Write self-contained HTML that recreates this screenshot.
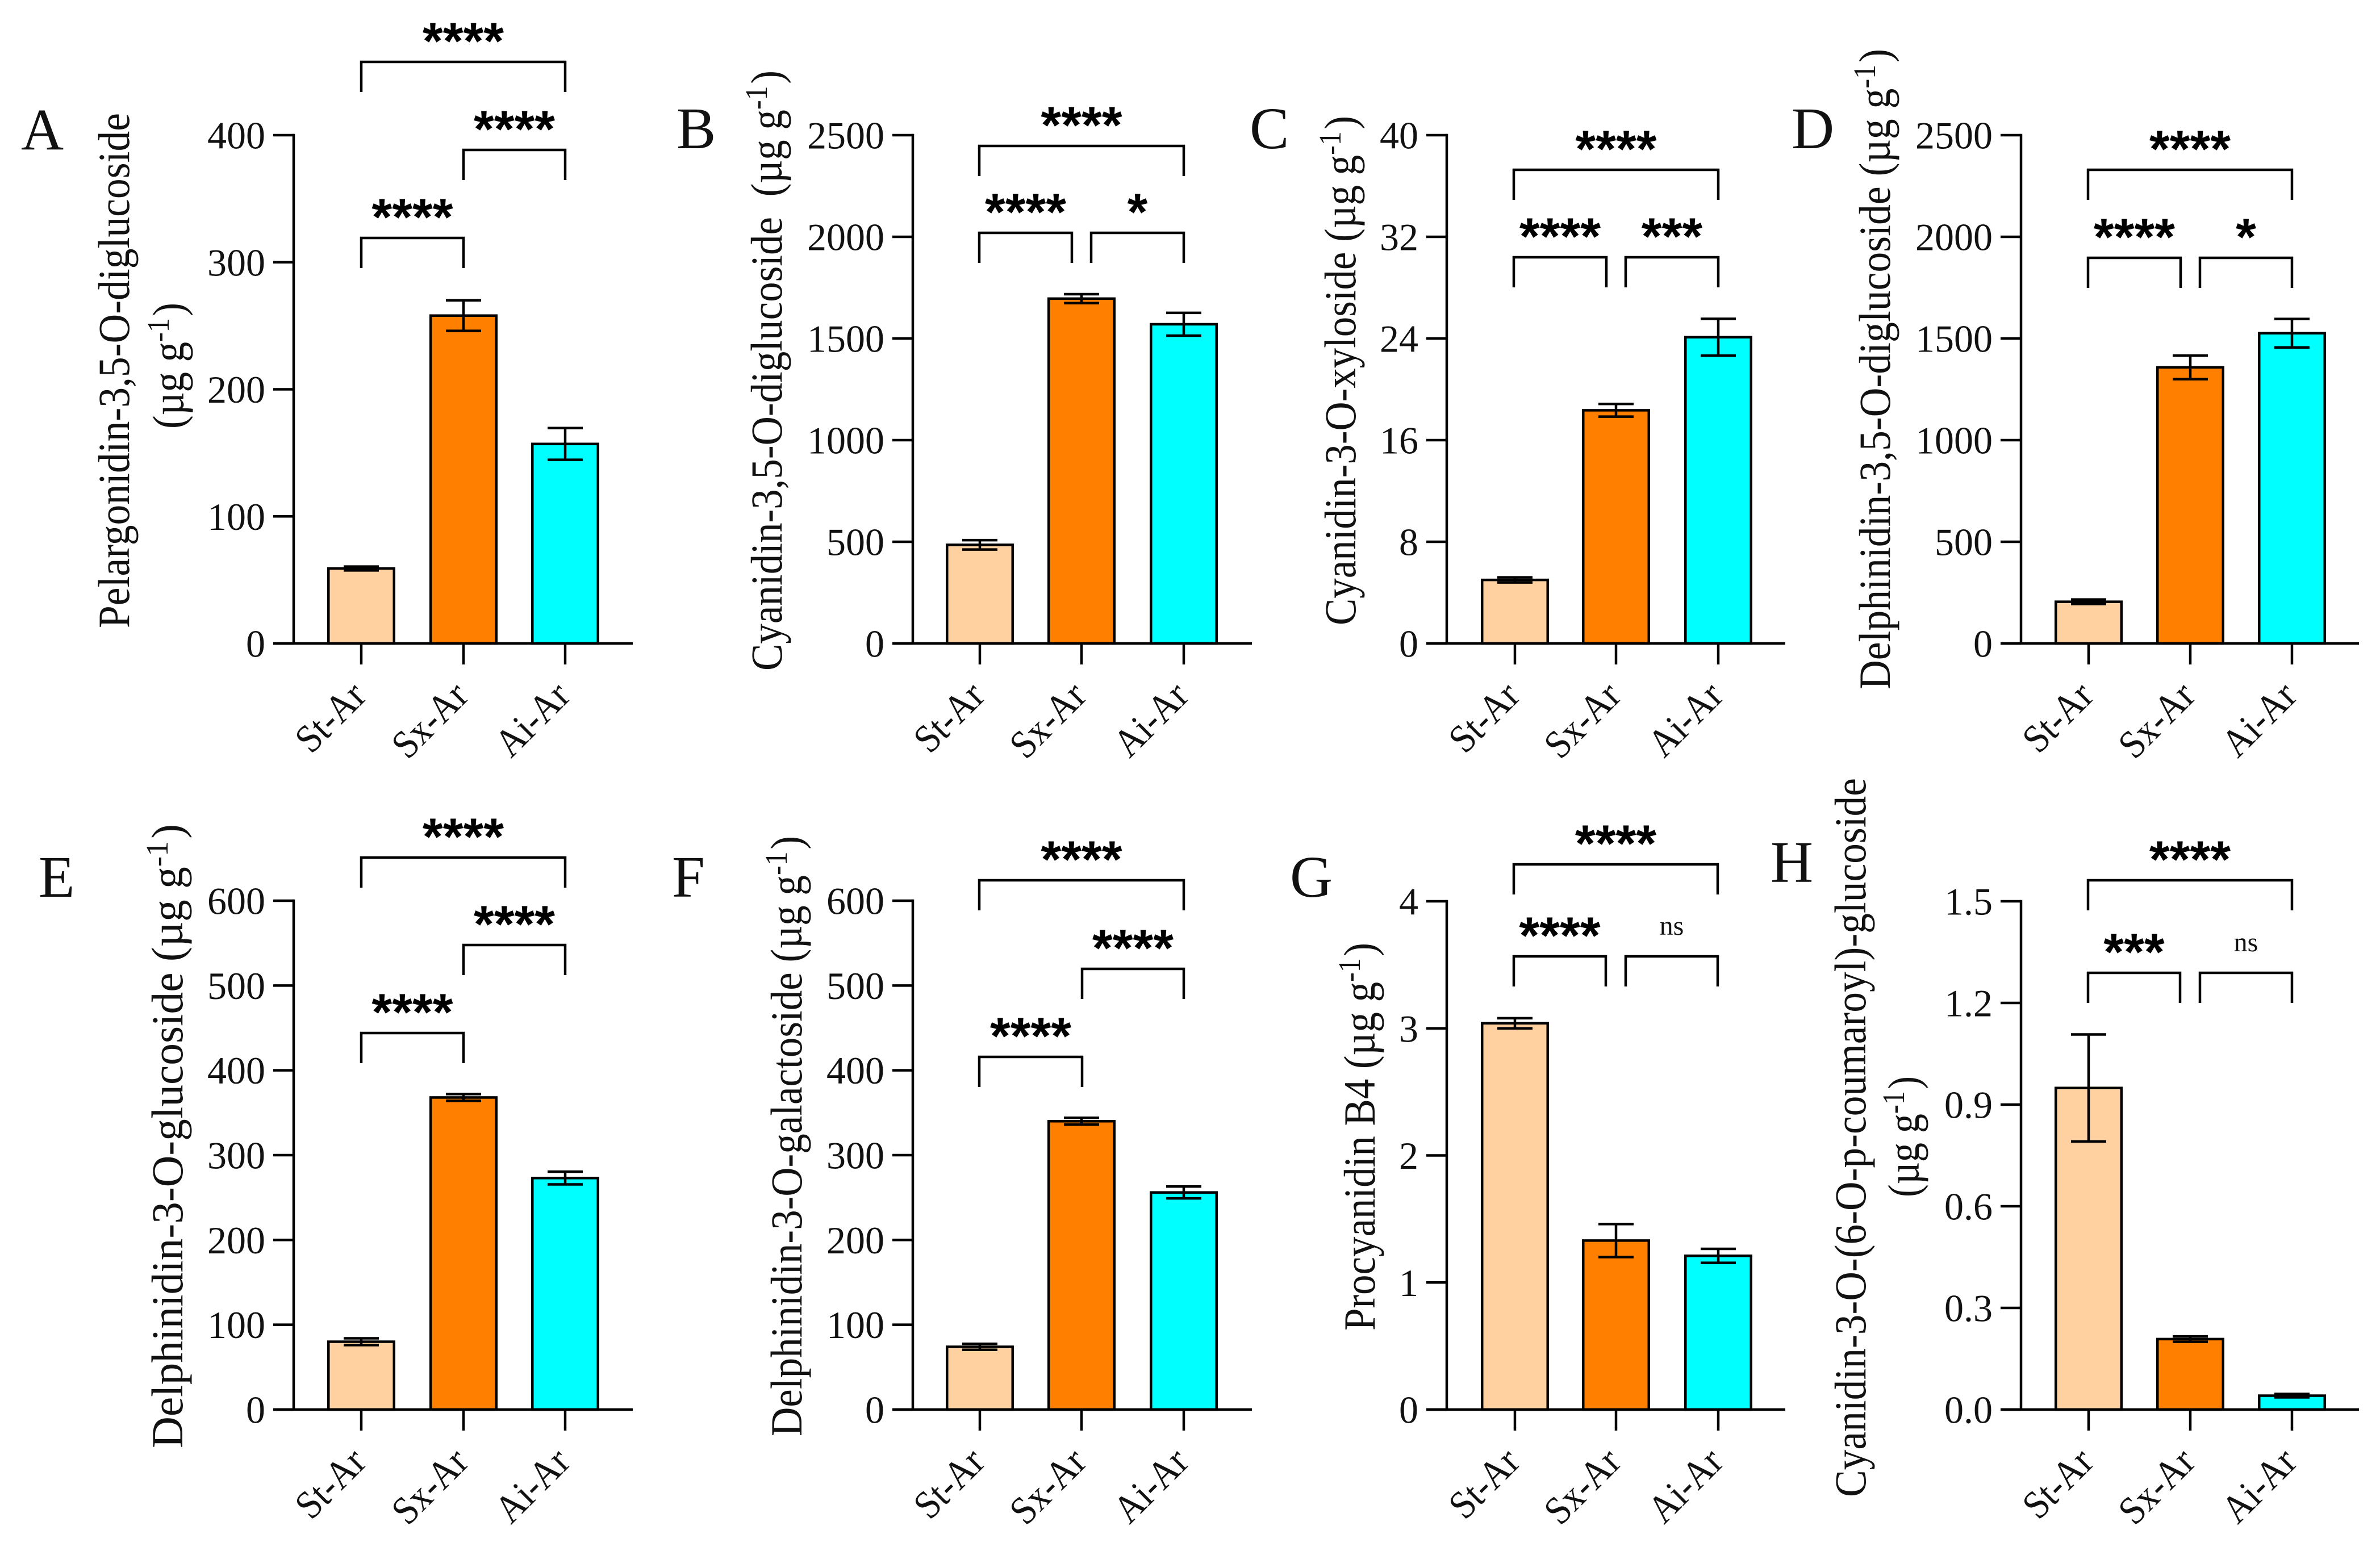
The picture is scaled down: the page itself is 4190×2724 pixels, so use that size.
<!DOCTYPE html>
<html lang="en">
<head>
<meta charset="utf-8">
<title>Anthocyanin content by group</title>
<style>
  html, body { margin: 0; padding: 0; background: #fff; }
  svg { display: block; }
  text { font-family: "Liberation Serif", "DejaVu Serif", serif; fill: #111; }
  .stars { font-family: "Liberation Sans", "DejaVu Sans", sans-serif; font-weight: 700; fill: #000; }
</style>
</head>
<body>
<svg id="figure" xmlns="http://www.w3.org/2000/svg" width="4190" height="2724" viewBox="0 0 4190 2724"></svg>
<script>
// ---- shared categories ----
const categories = ['St-Ar', 'Sx-Ar', 'Ai-Ar'];

// ---- panel A ----
const aTicks = ['0', '100', '200', '300', '400'];
const aMeans = [59, 258, 157];
const aErrors = [1.5, 12, 12.5];
// ---- panel B ----
const bTicks = ['0', '500', '1000', '1500', '2000', '2500'];
const bMeans = [485, 1696, 1570];
const bErrors = [23, 22, 56];
// ---- panel C ----
const cTicks = ['0', '8', '16', '24', '32', '40'];
const cMeans = [5.0, 18.35, 24.1];
const cErrors = [0.2, 0.5, 1.45];
// ---- panel D ----
const dTicks = ['0', '500', '1000', '1500', '2000', '2500'];
const dMeans = [205, 1358, 1526];
const dErrors = [11, 58, 70];
// ---- panel E ----
const eTicks = ['0', '100', '200', '300', '400', '500', '600'];
const eMeans = [80, 368, 273];
const eErrors = [4, 4, 7.5];
// ---- panel F ----
const fTicks = ['0', '100', '200', '300', '400', '500', '600'];
const fMeans = [74, 340, 256];
const fErrors = [3.5, 4, 7];
// ---- panel G ----
const gTicks = ['0', '1', '2', '3', '4'];
const gMeans = [3.04, 1.33, 1.21];
const gErrors = [0.04, 0.13, 0.055];
// ---- panel H ----
const hTicks = ['0.0', '0.3', '0.6', '0.9', '1.2', '1.5'];
const hMeans = [0.949, 0.208, 0.041];
const hErrors = [0.158, 0.008, 0.005];

const barColors = ['#FFD0A0', '#FF8000', '#00FFFF'];

const panels = [
  { id: 'a', letter: 'A', lx: 37, ly: 263, ticks: aTicks, means: aMeans, errors: aErrors,
    axisX: 517, top: 238, base: 1133, right: 1114, centers: [636, 816, 995],
    titles: [{ t: 'Pelargonidin-3,5-O-diglucoside', x: 227, y: 1106, len: 907 },
             { t: '(µg g', sup: '-1', post: ')', x: 323, y: 755, len: 222 }],
    brackets: [[636, 995, 109, '****'], [816, 995, 264, '****'], [636, 816, 419, '****']] },
  { id: 'b', letter: 'B', lx: 1191, ly: 261, ticks: bTicks, means: bMeans, errors: bErrors,
    axisX: 1607, top: 238, base: 1133, right: 2204, centers: [1725, 1904, 2084],
    titles: [{ t: 'Cyanidin-3,5-O-diglucoside  (µg g', sup: '-1', post: ')', x: 1376, y: 1181, len: 1057 }],
    brackets: [[1724, 2084, 257, '****'], [1724, 1887, 410, '****'], [1921, 2084, 410, '*']] },
  { id: 'c', letter: 'C', lx: 2200, ly: 261, ticks: cTicks, means: cMeans, errors: cErrors,
    axisX: 2547, top: 238, base: 1133, right: 3143, centers: [2667, 2845, 3025],
    titles: [{ t: 'Cyanidin-3-O-xyloside (µg g', sup: '-1', post: ')', x: 2386, y: 1101, len: 897 }],
    brackets: [[2665, 3025, 299, '****'], [2665, 2828, 453, '****'], [2862, 3025, 453, '***']] },
  { id: 'd', letter: 'D', lx: 3154, ly: 261, ticks: dTicks, means: dMeans, errors: dErrors,
    axisX: 3558, top: 238, base: 1133, right: 4153, centers: [3677, 3856, 4035],
    titles: [{ t: 'Delphinidin-3,5-O-diglucoside (µg g', sup: '-1', post: ')', x: 3327, y: 1214, len: 1128 }],
    brackets: [[3676, 4035, 299, '****'], [3676, 3839, 454, '****'], [3873, 4035, 454, '*']] },
  { id: 'e', letter: 'E', lx: 68, ly: 1579, ticks: eTicks, means: eMeans, errors: eErrors,
    axisX: 517, top: 1586, base: 2482, right: 1114, centers: [636, 816, 995],
    titles: [{ t: 'Delphinidin-3-O-glucoside (µg g', sup: '-1', post: ')', x: 321, y: 2550, len: 1099 }],
    brackets: [[636, 995, 1510, '****'], [816, 995, 1664, '****'], [636, 816, 1819, '****']] },
  { id: 'f', letter: 'F', lx: 1183, ly: 1579, ticks: fTicks, means: fMeans, errors: fErrors,
    axisX: 1607, top: 1586, base: 2482, right: 2204, centers: [1725, 1904, 2084],
    titles: [{ t: 'Delphinidin-3-O-galactoside (µg g', sup: '-1', post: ')', x: 1411, y: 2529, len: 1057 }],
    brackets: [[1724, 2084, 1550, '****'], [1905, 2084, 1706, '****'], [1724, 1905, 1861, '****']] },
  { id: 'g', letter: 'G', lx: 2271, ly: 1579, ticks: gTicks, means: gMeans, errors: gErrors,
    axisX: 2547, top: 1587, base: 2482, right: 3143, centers: [2667, 2845, 3025],
    titles: [{ t: 'Procyanidin B4 (µg g', sup: '-1', post: ')', x: 2420, y: 2343, len: 683 }],
    brackets: [[2665, 3024, 1522, '****'], [2665, 2827, 1684, '****'], [2862, 3024, 1684, 'ns']] },
  { id: 'h', letter: 'H', lx: 3117, ly: 1553, ticks: hTicks, means: hMeans, errors: hErrors,
    axisX: 3558, top: 1587, base: 2482, right: 4153, centers: [3677, 3856, 4035],
    titles: [{ t: 'Cyanidin-3-O-(6-O-p-coumaroyl)-glucoside', x: 3284, y: 2636, len: 1266 },
             { t: '(µg g', sup: '-1', post: ')', x: 3378, y: 2108, len: 213 }],
    brackets: [[3676, 4035, 1550, '****'], [3676, 3838, 1713, '***'], [3873, 4035, 1713, 'ns']] }
];

const NS = 'http://www.w3.org/2000/svg';
const figure = document.getElementById('figure');

function svgEl(parent, tag, attrs, text) {
  const el = document.createElementNS(NS, tag);
  for (const k in attrs) el.setAttribute(k, attrs[k]);
  if (text !== undefined) el.textContent = text;
  parent.appendChild(el);
  return el;
}

function yScale(panel) {
  const values = panel.ticks.map(Number);
  const lo = Math.min.apply(null, values);
  const hi = Math.max.apply(null, values);
  return function (v) {
    return panel.base - (v - lo) / (hi - lo) * (panel.base - panel.top);
  };
}

const STROKE = 4.5;
const BAR_W = 115.5;
const CAP_W = 62;
const TICK = 36;
const DROP = 53;
const line = { stroke: '#000', 'stroke-width': STROKE, fill: 'none' };

panels.forEach(function (p) {
  const y = yScale(p);
  const g = svgEl(figure, 'g', {});
  
  

  const letter = svgEl(g, 'text', { x: p.lx, y: p.ly, 'font-size': 104 }, p.letter);
  
  

  p.titles.forEach(function (tl, i) {
    const title = svgEl(g, 'text', {
      transform: 'translate(' + tl.x + ' ' + tl.y + ') rotate(-90)',
      'font-size': 78, 'xml:space': 'preserve', style: 'white-space:pre',
      textLength: tl.len, lengthAdjust: 'spacingAndGlyphs'
    });
    
    
    svgEl(title, 'tspan', {}, tl.t);
    if (tl.sup) {
      svgEl(title, 'tspan', { dy: -26, 'font-size': 55 }, tl.sup);
      svgEl(title, 'tspan', { dy: 26, dx: 4 }, tl.post);
    }
  });

  // bars first so that axes and error bars sit on top
  categories.forEach(function (cat, i) {
    const cx = p.centers[i];
    const barTop = y(p.means[i]);
    const bar = svgEl(g, 'rect', {
      x: cx - BAR_W / 2, y: barTop, width: BAR_W, height: p.base - barTop,
      fill: barColors[i], stroke: '#000', 'stroke-width': STROKE
    });
    
    

    const hiY = y(p.means[i] + p.errors[i]);
    const loY = y(p.means[i] - p.errors[i]);
    const err = svgEl(g, 'path', Object.assign({
      d: 'M' + (cx - CAP_W / 2) + ' ' + hiY + 'H' + (cx + CAP_W / 2) +
         'M' + cx + ' ' + hiY + 'V' + loY +
         'M' + (cx - CAP_W / 2) + ' ' + loY + 'H' + (cx + CAP_W / 2)
    }, line));
    
    

    const xTick = svgEl(g, 'line', Object.assign({ x1: cx, x2: cx, y1: p.base, y2: p.base + TICK + 1 }, line));
    
    

    const lab = svgEl(g, 'text', {
      transform: 'translate(' + (cx + 12) + ' ' + (p.base + 96) + ') rotate(-45) scale(0.91 1)',
      'text-anchor': 'end', 'font-size': 70
    }, cat);
    
    
  });

  const yAxis = svgEl(g, 'line', Object.assign({ x1: p.axisX, x2: p.axisX, y1: p.top - 2.25, y2: p.base }, line));
  
  

  const xAxis = svgEl(g, 'line', Object.assign({ x1: p.axisX - TICK, x2: p.right, y1: p.base, y2: p.base }, line));
  
  

  p.ticks.forEach(function (label) {
    const ty = y(Number(label));
    const tick = svgEl(g, 'line', Object.assign({ x1: p.axisX - TICK, x2: p.axisX, y1: ty, y2: ty }, line));
    
    
    const tl = svgEl(g, 'text', { x: p.axisX - 50, y: ty + 23.5, 'text-anchor': 'end', 'font-size': 68 }, label);
    
    
  });

  p.brackets.forEach(function (b, i) {
    const br = svgEl(g, 'path', Object.assign({
      d: 'M' + b[0] + ' ' + (b[2] + DROP) + 'V' + b[2] + 'H' + b[1] + 'V' + (b[2] + DROP)
    }, line));
    
    
    const mid = (b[0] + b[1]) / 2;
    const isNs = b[3] === 'ns';
    const mark = svgEl(g, 'text', {
      x: mid, y: isNs ? b[2] - 38 : b[2] - 5, 'text-anchor': 'middle',
      'font-size': isNs ? 48 : 92, class: isNs ? '' : 'stars'
    }, b[3]);
    
    
  });
});
</script>
</body>
</html>
